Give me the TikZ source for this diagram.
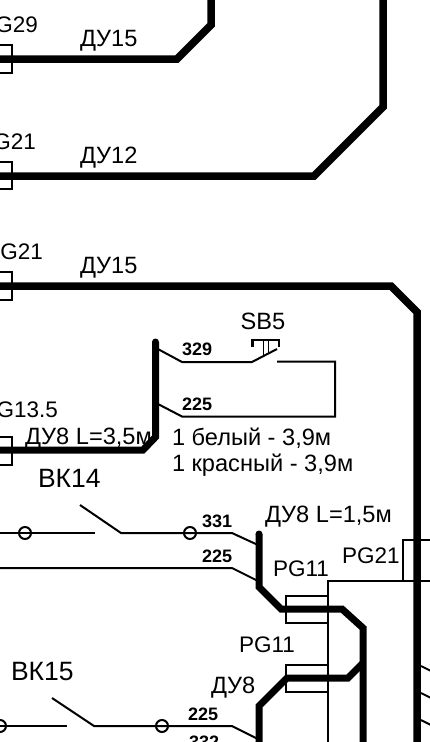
\documentclass[tikz,border=0pt]{standalone}
\usepackage{fontspec}
\setmainfont{Liberation Sans}
\tikzset{
  lab/.style={inner sep=0pt,outer sep=0pt,anchor=base west,font=\fontsize{23.6}{24}\selectfont},
  pg/.style={lab,font=\fontsize{22.5}{24}\selectfont},
  pge/.style={pg,anchor=base east},
  big/.style={lab,font=\fontsize{26.5}{27}\selectfont},
  num/.style={lab,font=\fontsize{18}{18}\selectfont\bfseries},
  pipe/.style={line width=7.5pt,line join=miter,miter limit=10},
  wire/.style={line width=2pt,line join=miter},
  term/.style={line width=2pt,draw,fill=none}
}
\begin{document}
\begin{tikzpicture}[x=1pt,y=-1pt]
\useasboundingbox (0,0) rectangle (430,742);
\clip (0,0) rectangle (430,742);
\fill[white] (0,0) rectangle (430,742);
% labels
\node[pge] (t1) at (38,32) {G29};
\node[pge] (t2) at (36,149) {G21};
\node[pge] (t3) at (43,259) {G21};
\node[lab] (t4) at (80,46) {ДУ15};
\node[lab] (t5) at (80,163) {ДУ12};
\node[lab] (t6) at (80,273) {ДУ15};
\node[pge] (t7) at (58,417) {G13.5};
\node[lab] (t8) at (25,444) {ДУ8 L=3,5м};
\node[lab] (t9) at (172,445) {1 белый - 3,9м};
\node[lab] (t10) at (172,471) {1 красный - 3,9м};
\node[big] (t11) at (38,487) {ВК14};
\node[big] (t12) at (11,680) {ВК15};
\node[lab,anchor=base] (t13) at (263,329) {SB5};
\node[lab] (t14) at (265,522) {ДУ8 L=1,5м};
\node[pg] (t15) at (273,576) {PG11};
\node[pg] (t16) at (342,563) {PG21};
\node[pg] (t17) at (239,652) {PG11};
\node[lab] (t18) at (211,693) {ДУ8};
\node[num] (n1) at (182,355) {329};
\node[num] (n2) at (182,410) {225};
\node[num] (n3) at (202,527) {331};
\node[num] (n4) at (202,562) {225};
\node[num] (n5) at (188,720) {225};
\node[num] (n6) at (189,748) {332};
% connector boxes
\draw[term] (-5,45) rectangle (12,73);
\draw[term] (-5,162) rectangle (12,189);
\draw[term] (-5,272) rectangle (12,300);
\draw[term] (-5,437) rectangle (12,465);
\draw[term] (286,596) rectangle (328,623);
\draw[term] (286,665) rectangle (328,692);
\draw[term] (403,540) rectangle (440,581);
% thin wires
\draw[wire] (328,750) -- (328,581) -- (440,581);
\draw[wire] (156,348) -- (182,362) -- (252,362) -- (277,349);
\draw[wire] (277,361.5) -- (335,361.5) -- (335,416.5) -- (182,416.5) -- (156,403);
\draw[line width=2.5pt] (252.5,347) -- (252.5,340) -- (279,340) -- (279,347);
\draw[line width=.8pt] (263,340) -- (263,355);
\draw[line width=.8pt] (268,340) -- (268,353);
\draw[wire] (-5,533) -- (95,533);
\draw[wire] (80,505) -- (121,533) -- (232,533) -- (258,545);
\draw[wire] (-5,568) -- (232,568) -- (258,581);
\draw[wire] (-5,726) -- (67,726);
\draw[wire] (52,698) -- (94,726) -- (232,726) -- (258,739);
\draw[wire] (25,533) circle (6);
\draw[wire] (190,533) circle (6);
\draw[wire] (0,726) circle (6);
\draw[wire] (162,726) circle (6);
\draw[wire] (421,666) -- (435,673);
\draw[wire] (421,693) -- (435,700);
\draw[wire] (421,720) -- (435,727);
% thick pipes
\draw[pipe] (-5,59) -- (177,59) -- (211,25) -- (211,-5);
\draw[pipe] (-5,176) -- (314,176) -- (383,107) -- (383,-5);
\draw[pipe] (-5,286) -- (391,286) -- (417,312) -- (417,750);
\draw[pipe,line width=7pt] (-5,450) -- (143,450) -- (155.5,437) -- (155.5,342);
\fill (155.5,342) circle (3.5);
\draw[pipe,line width=7pt] (259,534) -- (259,587) -- (281,609) -- (342,609) -- (363,628) -- (363,750);
\fill (259,534) circle (3.5);
\draw[pipe,line width=7pt] (259,750) -- (259,706) -- (287,678) -- (348,678) -- (363,663);
\end{tikzpicture}
\end{document}
